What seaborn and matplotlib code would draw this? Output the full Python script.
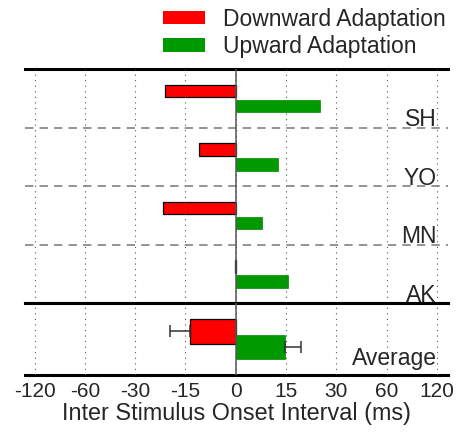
import matplotlib
matplotlib.use("Agg")
import matplotlib.pyplot as plt
import seaborn as sns
import pandas as pd
import numpy as np
from matplotlib.patches import Patch

# ---- data ----
subjects = ["SH", "YO", "MN", "AK"]
downward = [-20.0, -11.0, -20.5, -0.2]
upward = [24.0, 12.5, 7.7, 15.5]
avg_label = "Average"
avg_down, avg_down_err = -13.7, 4.9
avg_up, avg_up_err = 14.8, 3.7
series = ["Downward Adaptation", "Upward Adaptation"]
tick_values = [-120, -60, -30, -15, 0, 15, 30, 60, 120]
tick_labels = ["-120", "-60", "-30", "-15", "0", "15", "30", "60", "120"]
xlabel = "Inter Stimulus Onset Interval (ms)"

colors = {"Downward Adaptation": "#FF0000", "Upward Adaptation": "#009900"}

df = pd.DataFrame({
    "subject": subjects * 2,
    "direction": [series[0]] * len(subjects) + [series[1]] * len(subjects),
    "value": downward + upward,
})

sns.set_style("white")
plt.rcParams["font.family"] = ["Liberation Sans", "DejaVu Sans"]

fig = plt.figure(figsize=(4.6, 4.32), dpi=100)
ax = fig.add_axes([0.0543, 0.2979, 0.9196, 0.5417])
ax2 = fig.add_axes([0.0543, 0.1319, 0.9196, 0.166], sharex=ax)

sns.barplot(data=df, y="subject", x="value", hue="direction", order=subjects,
            hue_order=series, palette=colors, orient="y", width=0.512, gap=0.17,
            errorbar=None, ax=ax, legend=False, saturation=1)
for p in ax.containers[0]:
    p.set_edgecolor("black")
    p.set_linewidth(0.9)
for p in ax.containers[1]:
    p.set_edgecolor("#008800")
    p.set_linewidth(0.5)

# Average axes
ax2.barh([-0.107], [avg_down], height=0.339, color=colors[series[0]],
         edgecolor="black", linewidth=0.9, zorder=2)
ax2.barh([0.107], [avg_up], height=0.339, color=colors[series[1]],
         edgecolor="#008800", linewidth=0.5, zorder=2)
ax2.errorbar([avg_down], [-0.107], xerr=[[avg_down_err], [0]], fmt="none",
             ecolor="#333333", elinewidth=1.1, capsize=4.3, capthick=1.1, zorder=4)
ax2.errorbar([avg_up], [0.107], xerr=[[0], [avg_up_err]], fmt="none",
             ecolor="#333333", elinewidth=1.1, capsize=4.3, capthick=1.1, zorder=4)

for a in (ax, ax2):
    a.set_xscale("symlog", base=2, linthresh=15, linscale=0.5)
    a.set_xlim(-137, 140)
    a.set_xticks(tick_values)
    a.xaxis.set_minor_locator(matplotlib.ticker.NullLocator())
    a.set_yticks([])
    a.set_ylabel("")
    a.set_xlabel("")
    a.grid(False)
    for x in tick_values:
        a.axvline(x, color="#555555", lw=0.8, linestyle=(0, (1, 4)), zorder=3)
    a.axvline(0, color="#555555", lw=1.1, zorder=3.5)
    for s in ("left", "right"):
        a.spines[s].set_visible(False)
    for s in ("top", "bottom"):
        a.spines[s].set_visible(True)
        a.spines[s].set_linewidth(2.2)
        a.spines[s].set_color("black")
    a.tick_params(axis="x", length=0)

ax.set_ylim(3.5, -0.5)
ax2.set_ylim(0.5, -0.5)
ax.tick_params(axis="x", labelbottom=False)
ax2.set_xticklabels(tick_labels, fontsize=15)
ax2.tick_params(axis="x", pad=5)
ax2.set_xlabel(xlabel, fontsize=16.8, labelpad=1)

for i in (0.5, 1.5, 2.5):
    ax.axhline(i, color="#777777", lw=1.1, linestyle=(0, (5.5, 4)), zorder=3)

for i, s in enumerate(subjects):
    ax.text(120, i + 0.47, s, ha="right", va="baseline", fontsize=16.5, zorder=5)
ax2.text(120, 0.36, avg_label, ha="right", va="baseline", fontsize=16.5, zorder=5)

handles = [Patch(facecolor=colors[s], edgecolor="none") for s in series]
fig.legend(handles, series, loc="upper right", bbox_to_anchor=(1.008, 1.025),
           frameon=False, fontsize=16.5, handlelength=1.85, handleheight=0.5,
           handletextpad=0.75, labelspacing=0.2, borderpad=0.3)

fig.savefig("out.png", dpi=100)
